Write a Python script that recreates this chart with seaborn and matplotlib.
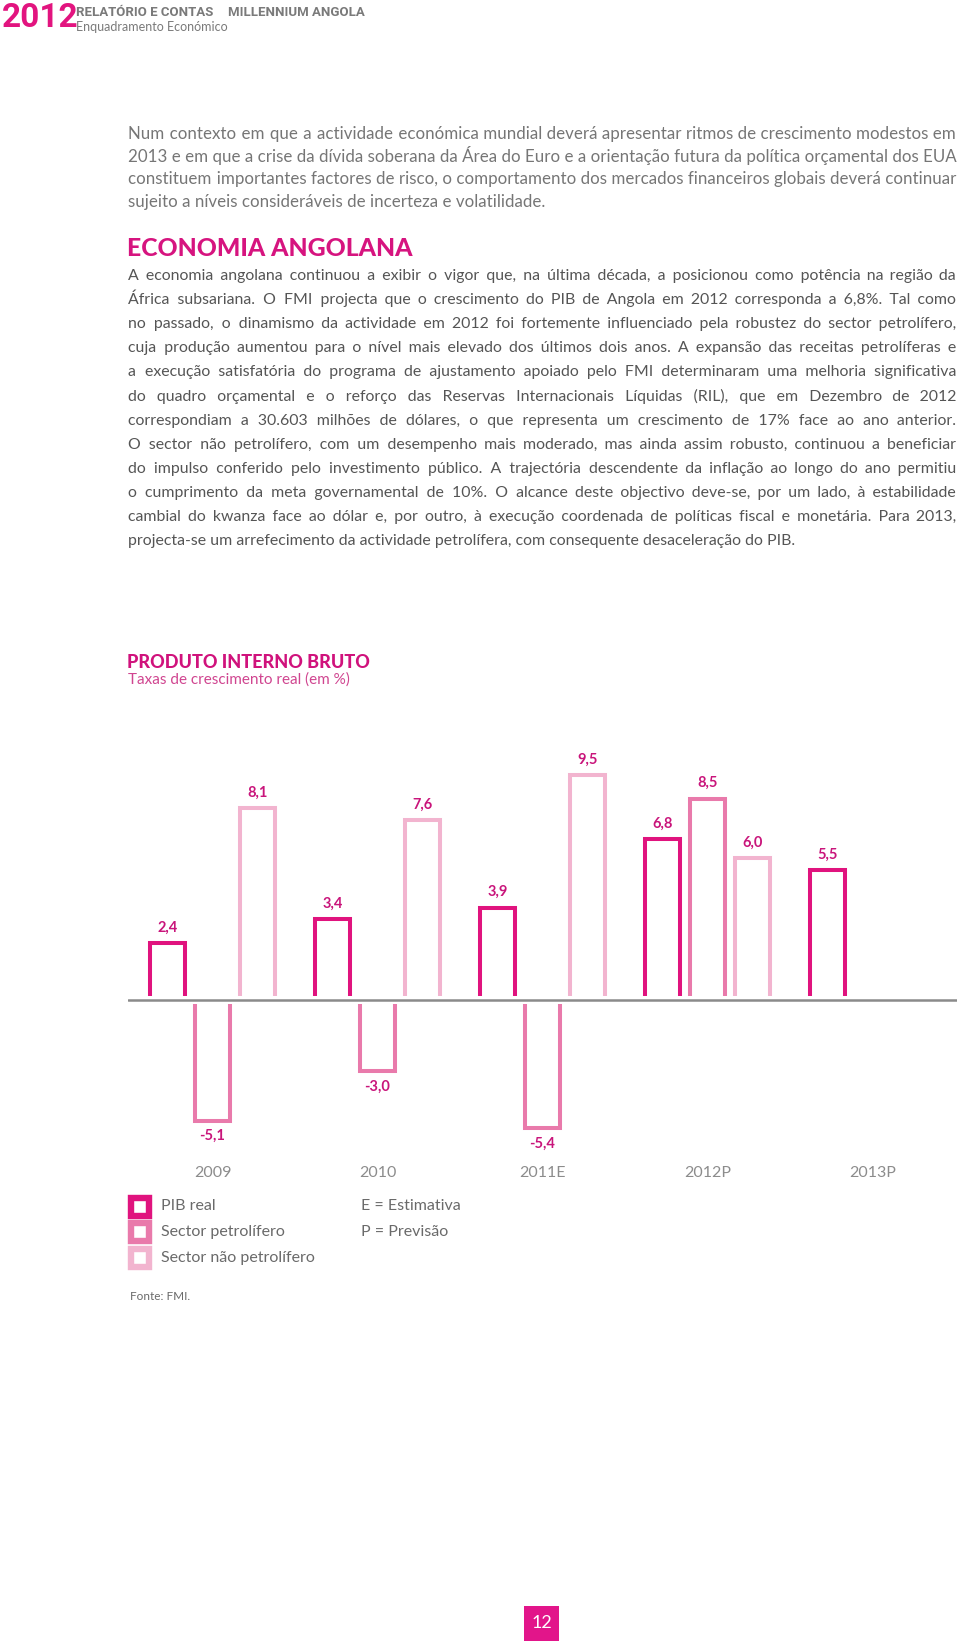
import numpy as np
import pandas as pd
import matplotlib
matplotlib.use('Agg')
import matplotlib.pyplot as plt
import seaborn as sns
from matplotlib.patches import Rectangle

# dados
anos = ['2009', '2010', '2011E', '2012P', '2013P']
pib_real = [2.4, 3.4, 3.9, 6.8, 5.5]
sector_petrolifero = [-5.1, -3.0, -5.4, 8.5, np.nan]
sector_nao_petrolifero = [8.1, 7.6, 9.5, 6.0, np.nan]
series = ['PIB real', 'Sector petrolífero', 'Sector não petrolífero']
cores = ['#e0137e', '#e97aab', '#f2b4cf']

paragrafo1 = [
    "Num contexto em que a actividade económica mundial deverá apresentar ritmos de crescimento modestos em",
    "2013 e em que a crise da dívida soberana da Área do Euro e a orientação futura da política orçamental dos EUA",
    "constituem importantes factores de risco, o comportamento dos mercados financeiros globais deverá continuar",
    "sujeito a níveis consideráveis de incerteza e volatilidade.",
]
paragrafo2 = [
    "A economia angolana continuou a exibir o vigor que, na última década, a posicionou como potência na região da",
    "África subsariana. O FMI projecta que o crescimento do PIB de Angola em 2012 corresponda a 6,8%. Tal como",
    "no passado, o dinamismo da actividade em 2012 foi fortemente influenciado pela robustez do sector petrolífero,",
    "cuja produção aumentou para o nível mais elevado dos últimos dois anos. A expansão das receitas petrolíferas e",
    "a execução satisfatória do programa de ajustamento apoiado pelo FMI determinaram uma melhoria significativa",
    "do quadro orçamental e o reforço das Reservas Internacionais Líquidas (RIL), que em Dezembro de 2012",
    "correspondiam a 30.603 milhões de dólares, o que representa um crescimento de 17% face ao ano anterior.",
    "O sector não petrolífero, com um desempenho mais moderado, mas ainda assim robusto, continuou a beneficiar",
    "do impulso conferido pelo investimento público. A trajectória descendente da inflação ao longo do ano permitiu",
    "o cumprimento da meta governamental de 10%. O alcance deste objectivo deve-se, por um lado, à estabilidade",
    "cambial do kwanza face ao dólar e, por outro, à execução coordenada de políticas fiscal e monetária. Para 2013,",
    "projecta-se um arrefecimento da actividade petrolífera, com consequente desaceleração do PIB.",
]

rows = []
for serie, valores in zip(series, [pib_real, sector_petrolifero, sector_nao_petrolifero]):
    for ano, v in zip(anos, valores):
        if not np.isnan(v):
            rows.append({'ano': ano, 'serie': serie, 'valor': v})
df = pd.DataFrame(rows)

sns.set_style('white')
plt.rcParams['font.family'] = ['Lato', 'DejaVu Sans']

W, H = 960, 1644
fig = plt.figure(figsize=(W / 100, H / 100), dpi=100)
fig.patch.set_facecolor('white')


def T(x, y, s, **kw):
    kw.setdefault('va', 'center')
    return fig.text(x / W, 1 - y / H, s, **kw)


# cabeçalho
T(2, 18, '2012', fontsize=24, fontweight='bold', color='#e2147f', family='Roboto')
T(76, 12, 'RELATÓRIO E CONTAS', fontsize=9.5, fontweight='bold', color='#7a7a7a', family='Roboto')
T(228, 12, 'MILLENNIUM ANGOLA', fontsize=9.5, fontweight='bold', color='#7a7a7a', family='Roboto')
T(76, 27, 'Enquadramento Económico', fontsize=9, color='#7a7a7a')

# texto justificado (espaços finos para completar a linha)
renderer = fig.canvas.get_renderer()
X0, X1 = 128, 956
HS = '\u200a'


def largura(s, **kw):
    t = T(0, 0, s, **kw)
    w = t.get_window_extent(renderer).width
    t.remove()
    return w


def linha(y, s, justificar, **kw):
    kw['va'] = 'baseline'
    if justificar:
        palavras = s.split()
        hw = (largura('a' + HS * 20 + 'a', **kw) - largura('aa', **kw)) / 20
        falta = X1 - X0 - largura(s, **kw)
        n = max(0, int(round(falta / hw)))
        q, r = divmod(n, len(palavras) - 1)
        s = palavras[0]
        for i, p in enumerate(palavras[1:]):
            s += ' ' + HS * (q + (1 if i < r else 0)) + p
    T(X0, y, s, **kw)


for i, s in enumerate(paragrafo1):
    linha(139 + i * 22.6, s, i < len(paragrafo1) - 1, fontsize=12.2, color='#767676')

T(127, 248, 'ECONOMIA ANGOLANA', fontsize=17.8, fontweight='black', color='#d6147f')

for i, s in enumerate(paragrafo2):
    linha(280 + i * 24.1, s, i < len(paragrafo2) - 1, fontsize=11.4, color='#555555')

# gráfico
T(127, 662, 'PRODUTO INTERNO BRUTO', fontsize=13, fontweight='black', color='#d0127c')
T(128, 680, 'Taxas de crescimento real (em %)', fontsize=11, color='#d04590')

escala = 23.7
ax = fig.add_axes([128 / W, 1 - 1158 / H, (957 - 128) / W, (1158 - 700) / H])
sns.barplot(data=df, x='ano', y='valor', hue='serie', hue_order=series, order=anos,
            palette=cores, fill=False, linewidth=2.9, width=0.818, gap=0.22,
            errorbar=None, legend=False, ax=ax)
ax.set_xlim(-0.512, 4.512)
ax.set_ylim(-(1158 - 1000) / escala, (1000 - 700) / escala)
ax.axhspan(-0.17, 0.17, color='white', zorder=5, lw=0)
ax.axhline(0, color='#8a8a8a', lw=1.8, zorder=6)
for c in ax.containers:
    ax.bar_label(c, labels=[f'{v:.1f}'.replace('.', ',') for v in c.datavalues],
                 padding=6, fontsize=10.5, fontweight='bold', color='#c9157b')
sns.despine(ax=ax, left=True, bottom=True)
ax.set_xlabel('')
ax.set_ylabel('')
ax.set_yticks([])
ax.tick_params(axis='x', length=0, pad=6, labelsize=11.5, labelcolor='#8c8c8c')
ax.patch.set_alpha(0)

# legenda
for i, (serie, cor) in enumerate(zip(series, cores)):
    yc = 1206.5 + i * 25.5
    fig.add_artist(Rectangle((131 / W, 1 - (yc + 9) / H), 18 / W, 18 / H,
                             transform=fig.transFigure, fill=False, edgecolor=cor, lw=4.6))
    T(161, yc, serie, fontsize=11.5, color='#6a6a6a')
T(361, 1206, 'E = Estimativa', fontsize=11.5, color='#6a6a6a')
T(361, 1232, 'P = Previsão', fontsize=11.5, color='#6a6a6a')
T(130, 1297, 'Fonte: FMI.', fontsize=8.5, color='#6a6a6a')

# número da página
fig.add_artist(Rectangle((524 / W, 1 - 1641 / H), 35 / W, 35 / H,
                         transform=fig.transFigure, color='#e2158a', lw=0))
T(541.5, 1623, '12', fontsize=13, color='white', ha='center')

fig.savefig('out.png', dpi=100)
